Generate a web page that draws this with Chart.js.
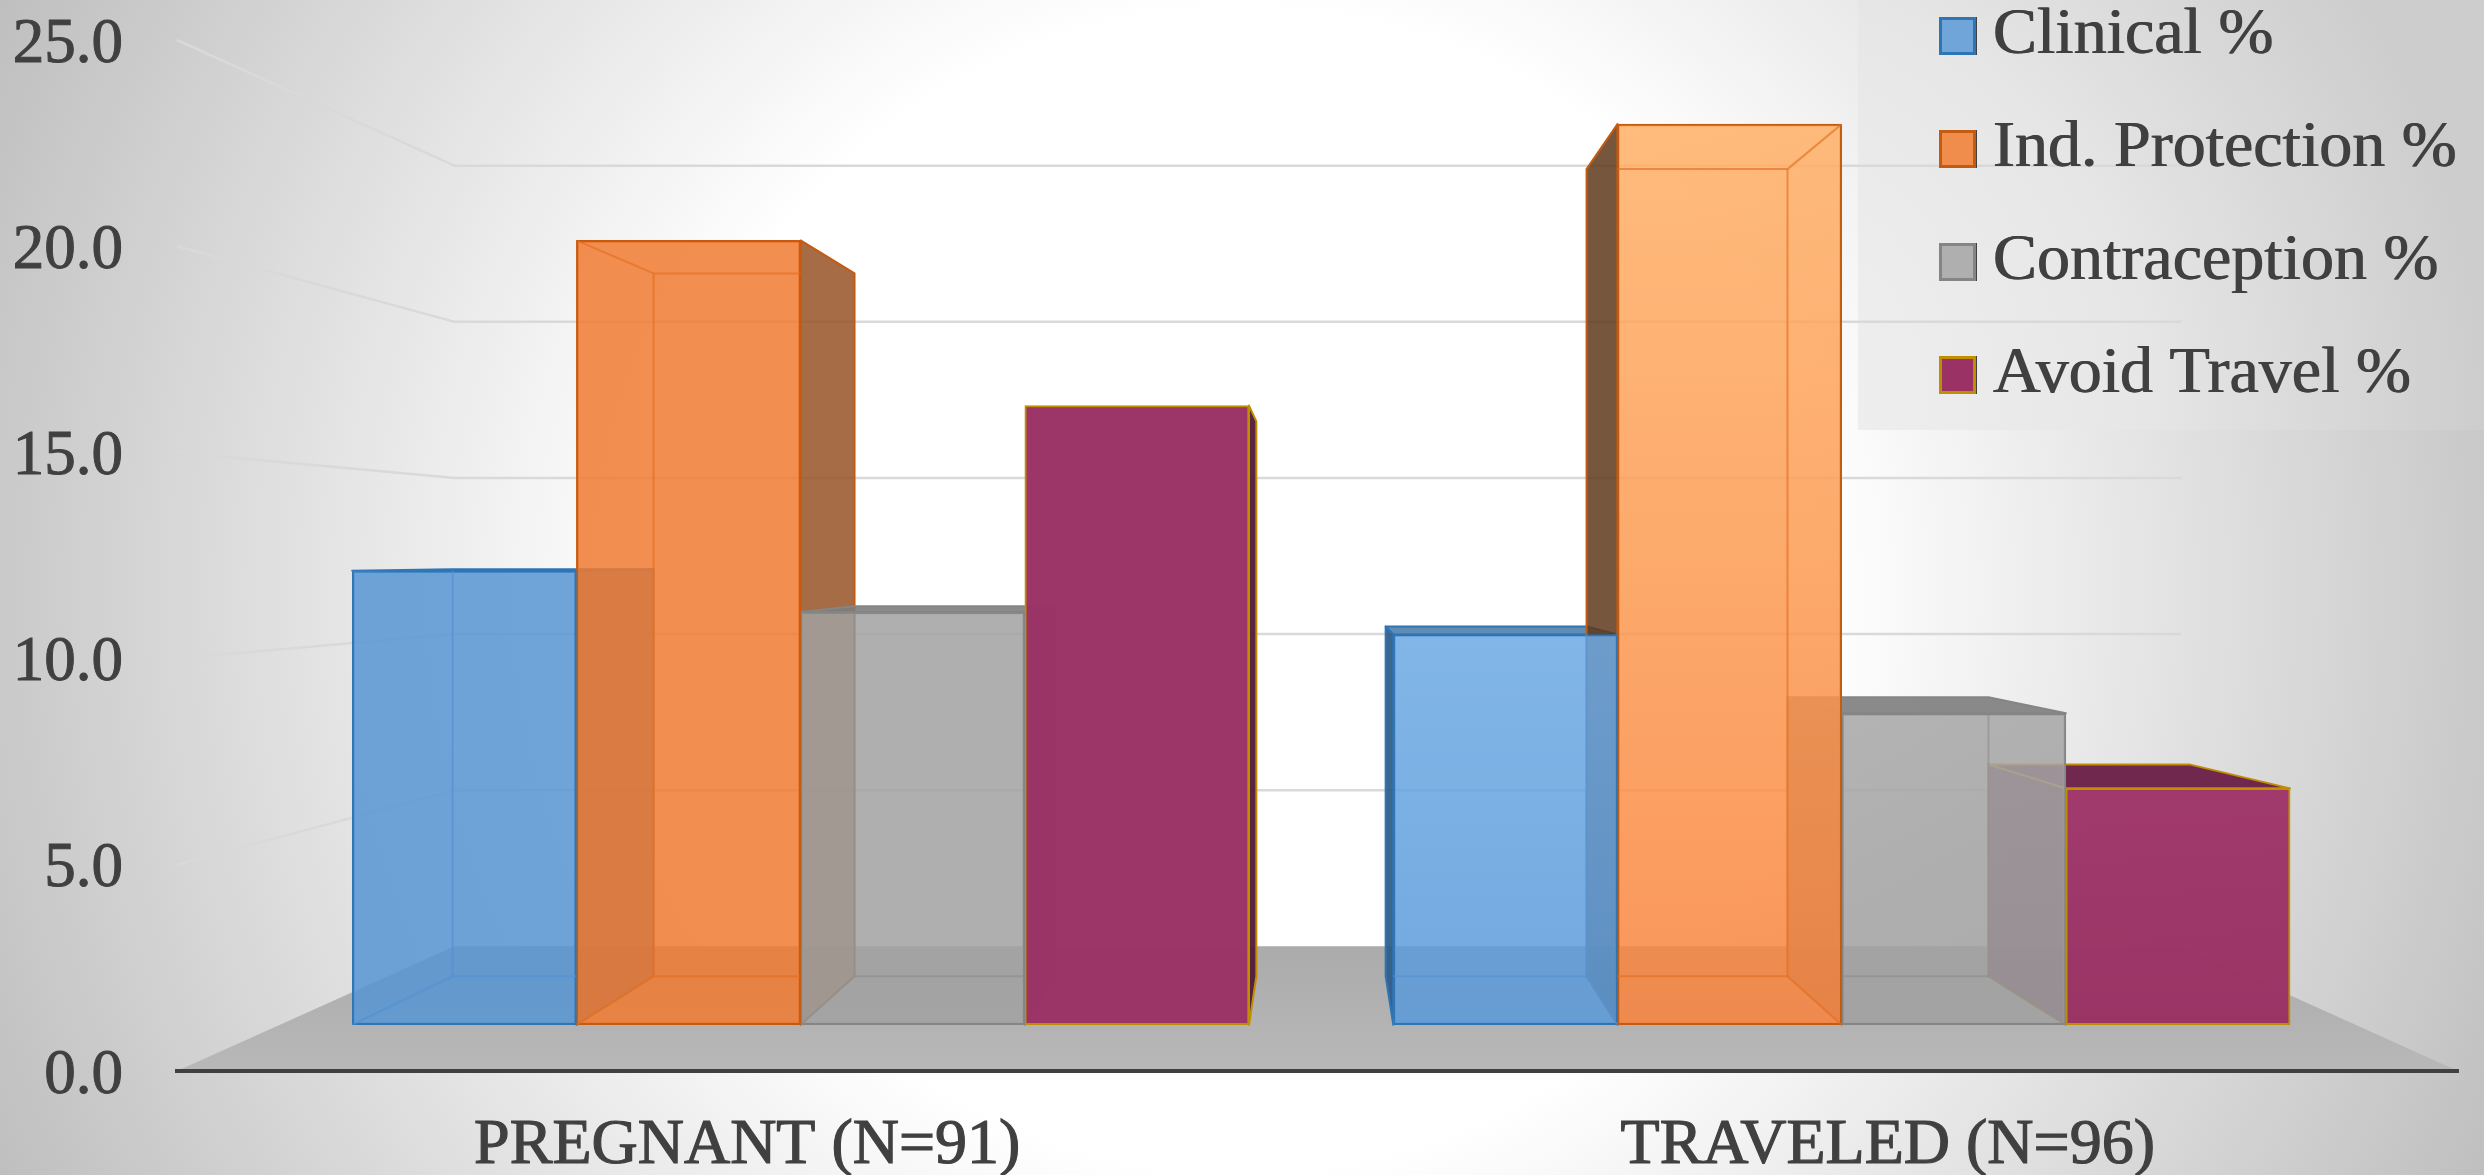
<!DOCTYPE html>
<html>
<head>
<meta charset="utf-8">
<style>html,body{margin:0;padding:0;background:#fff}canvas{display:block}</style>
<script src="https://cdn.jsdelivr.net/npm/chart.js@4/dist/chart.umd.min.js"></script>
</head>
<body>
<canvas id="chart" width="2484" height="1175"></canvas>
<script>
// Survey answers, percent of respondents per group
const categories = ['PREGNANT (N=91)', 'TRAVELED (N=96)'];
const seriesNames = ['Clinical %', 'Ind. Protection %', 'Contraception %', 'Avoid Travel %'];
const clinical = [12.1, 10.4];
const indProtection = [20.9, 24.0];
const contraception = [11.0, 8.3];
const avoidTravel = [16.5, 6.3];
const groupPositions = [0, 1];

// Face colours per series
const frontColors = [
  ['rgba(86,149,209,.85)', ['rgba(108,169,228,.85)', 'rgba(89,153,217,.85)']],
  ['rgba(240,122,48,.85)', ['rgba(255,176,102,.85)', 'rgba(249,131,61,.85)']],
  ['rgba(161,161,161,.85)', ['rgba(166,166,166,.85)', 'rgba(160,160,160,.85)']],
  ['rgba(155,50,101,.98)', ['rgba(160,54,106,.98)', 'rgba(153,50,100,.98)']]
];
const legendFills = ['#6FA5D8', '#F08C4C', '#AFAFAF', '#9B3265'];
const edgeColors = ['#2E75B6', '#C55A11', '#858585', '#BF8F00'];
const innerEdgeColors = ['rgba(80,145,210,.6)', 'rgba(228,110,30,.65)', 'rgba(135,135,135,.5)', 'rgba(0,0,0,0)'];
const leftWallColors = ['rgba(46,90,135,.92)', 'rgba(96,58,28,.86)', 'rgba(120,120,120,.9)', 'rgba(95,30,65,.9)'];
const rightWallColors = ['rgba(60,105,155,.85)', 'rgba(150,82,36,.85)', 'rgba(120,120,120,.85)', 'rgba(80,25,55,.95)'];
const topWallColors = ['rgba(70,120,165,.85)', 'rgba(150,82,36,0)', 'rgba(125,125,125,.9)', 'rgba(105,30,70,.95)'];

// Perspective: each depth plane shrinks toward a common vanishing point
const VALUE_MAX = 25;
const horizonValue = 12.45;
const vanishX = 0.501;
const depthBarFront = 0.91;
const depthBarBack = 0.8155;
const depthWall = 0.757;

function planeScale(k) {
  return {
    type: 'linear', display: false, offset: false,
    min: horizonValue - horizonValue / k,
    max: horizonValue + (VALUE_MAX - horizonValue) / k
  };
}

function polygon(ctx, pts, fill, stroke, width) {
  ctx.beginPath();
  pts.forEach((p, i) => i ? ctx.lineTo(p[0], p[1]) : ctx.moveTo(p[0], p[1]));
  ctx.closePath();
  if (fill) { ctx.fillStyle = fill; ctx.fill(); }
  if (stroke) { ctx.strokeStyle = stroke; ctx.lineWidth = width; ctx.stroke(); }
}

function segment(ctx, a, b) {
  ctx.beginPath();
  ctx.moveTo(a[0], a[1]);
  ctx.lineTo(b[0], b[1]);
  ctx.stroke();
}

function boxGeometry(chart, bar, value) {
  const area = chart.chartArea;
  const cx = area.left + (area.right - area.left) * vanishX;
  const ratio = depthBarBack / depthBarFront;
  const back = chart.scales.yBarsBack;
  const xl = bar.x - bar.width / 2, xr = bar.x + bar.width / 2;
  return {
    xl, xr,
    yt: bar.y, yb: bar.base,
    bxl: cx + ratio * (xl - cx), bxr: cx + ratio * (xr - cx),
    byt: back.getPixelForValue(value), byb: back.getPixelForValue(0)
  };
}

// Small swatch used as the legend marker
function swatch(fill, stroke) {
  const c = document.createElement('canvas');
  c.width = 37; c.height = 38;
  const g = c.getContext('2d');
  g.fillStyle = fill;
  g.fillRect(1.5, 1.5, 34, 35);
  g.strokeStyle = stroke;
  g.lineWidth = 3;
  g.strokeRect(1.5, 1.5, 34, 35);
  return c;
}

// Backdrop, legend panel, walls and floor
const stagePlugin = {
  id: 'stage',
  beforeDraw(chart) {
    const { ctx, chartArea: a, width, height, scales } = chart;
    ctx.save();
    const bg = ctx.createRadialGradient(1242, 590, 580, 1242, 590, 1372);
    bg.addColorStop(0, '#FFFFFF');
    bg.addColorStop(1, '#BFBFBF');
    ctx.fillStyle = bg;
    ctx.fillRect(0, 0, width, height);

    const panel = ctx.createRadialGradient(1700, 420, 0, 1700, 420, 784);
    panel.addColorStop(0, '#F2F2F2');
    panel.addColorStop(0.55, '#E7E7E7');
    panel.addColorStop(1, '#CDCDCD');
    ctx.fillStyle = panel;
    ctx.fillRect(1858, 0, width - 1858, 430);

    const cx = a.left + (a.right - a.left) * vanishX;
    const wallL = cx + depthWall * (a.left - cx);
    const wallR = cx + depthWall * (a.right - cx);
    const wall = scales.yWall;

    const floor = ctx.createLinearGradient(0, wall.getPixelForValue(0), 0, a.bottom);
    floor.addColorStop(0, '#ABABAB');
    floor.addColorStop(1, '#B8B8B8');
    polygon(ctx, [[a.left, a.bottom], [a.right, a.bottom], [wallR, wall.getPixelForValue(0)], [wallL, wall.getPixelForValue(0)]], floor);

    ctx.strokeStyle = '#D9D9D9';
    ctx.lineWidth = 2.5;
    scales.y.ticks.forEach(t => {
      if (t.value === 0) return;
      const yBack = wall.getPixelForValue(t.value);
      ctx.beginPath();
      ctx.moveTo(a.left, scales.y.getPixelForValue(t.value));
      ctx.lineTo(wallL, yBack);
      ctx.lineTo(wallR, yBack);
      ctx.stroke();
    });
    ctx.restore();
  },
  afterLayout(chart) {
    const lg = chart.legend;
    lg.left = 1908.5;
    lg.right = lg.left + lg.width;
    lg.top = -44;
    lg.bottom = lg.top + lg.height;

    // Legend text is set a little heavier than the face's regular weight
    if (!lg.heavyText) {
      const plainDraw = lg.draw;
      lg.draw = function (area) {
        const c = chart.ctx;
        c.save();
        c.shadowColor = '#404040';
        c.shadowOffsetX = 1;
        c.shadowBlur = 0;
        plainDraw.call(lg, area);
        c.restore();
      };
      lg.heavyText = true;
    }

    // Digit glyphs sit high in the line box; drop the value labels onto their ticks
    chart.scales.y.getLabelItems().forEach(item => { item.textOffset += 5; });
  },
  // Outer sides of each box, painted behind the front faces
  beforeDatasetsDraw(chart) {
    const ctx = chart.ctx;
    ctx.save();
    ctx.lineJoin = 'round';
    chart.data.datasets.forEach((ds, si) => {
      chart.getDatasetMeta(si).data.forEach((bar, i) => {
        const g = boxGeometry(chart, bar, ds.data[i]);
        const edge = edgeColors[si];
        if (g.bxl < g.xl) polygon(ctx, [[g.xl, g.yt], [g.bxl, g.byt], [g.bxl, g.byb], [g.xl, g.yb]], leftWallColors[si], edge, 2);
        if (g.bxr > g.xr) polygon(ctx, [[g.xr, g.yt], [g.bxr, g.byt], [g.bxr, g.byb], [g.xr, g.yb]], rightWallColors[si], edge, 2);
        if (g.byt < g.yt) polygon(ctx, [[g.xl, g.yt], [g.xr, g.yt], [g.bxr, g.byt], [g.bxl, g.byt]], topWallColors[si], edge, 2);
      });
    });
    ctx.restore();
  },
  // Back-edge wireframe seen through each box's own translucent front
  afterDatasetsDraw(chart) {
    const ctx = chart.ctx;
    chart.data.datasets.forEach((ds, si) => {
      chart.getDatasetMeta(si).data.forEach((bar, i) => {
        const g = boxGeometry(chart, bar, ds.data[i]);
        ctx.save();
        ctx.beginPath();
        ctx.rect(g.xl, g.yt, g.xr - g.xl, g.yb - g.yt);
        ctx.clip();
        ctx.lineWidth = 2;
        ctx.strokeStyle = innerEdgeColors[si];
        segment(ctx, [g.bxl, g.byt], [g.bxr, g.byt]);
        segment(ctx, [g.bxl, g.byt], [g.bxl, g.byb]);
        segment(ctx, [g.bxr, g.byt], [g.bxr, g.byb]);
        segment(ctx, [g.bxl, g.byb], [g.bxr, g.byb]);
        segment(ctx, [g.xl, g.yt], [g.bxl, g.byt]);
        segment(ctx, [g.xr, g.yt], [g.bxr, g.byt]);
        segment(ctx, [g.xl, g.yb], [g.bxl, g.byb]);
        segment(ctx, [g.xr, g.yb], [g.bxr, g.byb]);
        ctx.restore();
      });
    });
  }
};

function frontFill(seriesIndex) {
  return c => {
    const spec = frontColors[seriesIndex][c.dataIndex];
    if (typeof spec === 'string') return spec;
    const y = c.chart.scales.yBars;
    if (!y || y.top === undefined) return spec[0];
    const g = c.chart.ctx.createLinearGradient(0, y.getPixelForValue(c.raw), 0, y.getPixelForValue(0));
    g.addColorStop(0, spec[0]);
    g.addColorStop(1, spec[1]);
    return g;
  };
}

const values = [clinical, indProtection, contraception, avoidTravel];
const serifFont = 'Liberation Serif';

new Chart(document.getElementById('chart'), {
  type: 'bar',
  data: {
    labels: groupPositions,
    datasets: seriesNames.map((name, i) => ({
      label: name,
      data: values[i],
      xAxisID: 'xBars',
      yAxisID: 'yBars',
      backgroundColor: frontFill(i),
      borderColor: edgeColors[i],
      borderWidth: 2,
      borderSkipped: false,
      barThickness: 224.2
    }))
  },
  options: {
    responsive: false,
    animation: false,
    events: [],
    layout: { padding: { top: 40, right: 26, left: 0, bottom: 0 } },
    scales: {
      x: {
        type: 'category',
        labels: categories,
        offset: true,
        grid: { display: false, drawTicks: false },
        border: { display: true, color: '#404040', width: 4 },
        ticks: { color: '#404040', textStrokeColor: '#404040', textStrokeWidth: 1.2, font: { family: serifFont, size: 64 }, padding: 37, maxRotation: 0, autoSkip: false },
        afterFit: s => { s.height = 104; s.paddingLeft = 0; s.paddingRight = 0; }
      },
      y: {
        type: 'linear',
        min: 0,
        max: VALUE_MAX,
        grid: { display: false, drawTicks: false },
        border: { display: false },
        ticks: { color: '#404040', textStrokeColor: '#404040', textStrokeWidth: 1, font: { family: serifFont, size: 63 }, padding: 54, stepSize: 5, callback: v => v.toFixed(1) },
        afterFit: s => { s.width = 177; s.paddingTop = 0; s.paddingBottom = 0; }
      },
      xBars: { type: 'linear', display: false, offset: false, min: -0.599, max: 1.592 },
      yBars: planeScale(depthBarFront),
      yBarsBack: planeScale(depthBarBack),
      yWall: planeScale(depthWall)
    },
    plugins: {
      tooltip: { enabled: false },
      legend: {
        position: 'chartArea',
        align: 'start',
        labels: {
          usePointStyle: true,
          pointStyleWidth: 4,
          boxHeight: 36,
          padding: 47,
          color: '#404040',
          font: { family: serifFont, size: 66 },
          generateLabels: chart => chart.data.datasets.map((d, i) => ({
            text: d.label,
            pointStyle: swatch(legendFills[i], edgeColors[i]),
            fontColor: '#404040',
            datasetIndex: i
          }))
        }
      }
    }
  },
  plugins: [stagePlugin]
});
</script>
</body>
</html>
